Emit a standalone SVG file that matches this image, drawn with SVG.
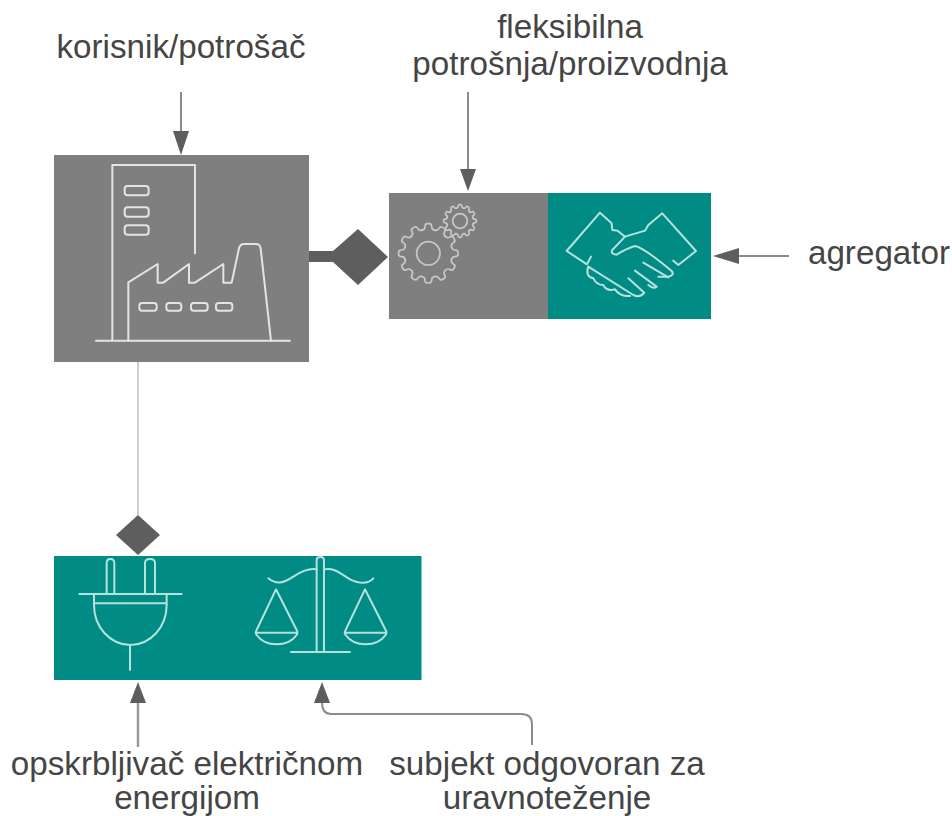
<svg xmlns="http://www.w3.org/2000/svg" width="952" height="816" viewBox="0 0 952 816">
<style>
text{font-family:"Liberation Sans",Arial,sans-serif;font-size:33.2px;fill:#454545;text-anchor:middle}
.g{fill:#7f7f7f}.t{fill:#008b85}
.i{fill:none;stroke-width:6;stroke-linecap:round;stroke-linejoin:round}
.w{stroke:#e4e4e4}.c{stroke:#c9c9c9;stroke-width:5}.m{stroke:#b5e2de}
.l{fill:none;stroke:#8c8c8c;stroke-width:2}
.h{fill:#5e5e5e}
</style>
<defs>
<path id="tooth" d="M-18.600-69.500Q-10-72-10-80Q-10-89-3-89L3-89Q10-89 10-80Q10-72 18.600-69.500"/>
<g id="gear">
<use href="#tooth"/><use href="#tooth" transform="rotate(30)"/><use href="#tooth" transform="rotate(60)"/><use href="#tooth" transform="rotate(90)"/><use href="#tooth" transform="rotate(120)"/><use href="#tooth" transform="rotate(150)"/><use href="#tooth" transform="rotate(180)"/><use href="#tooth" transform="rotate(210)"/><use href="#tooth" transform="rotate(240)"/><use href="#tooth" transform="rotate(270)"/><use href="#tooth" transform="rotate(300)"/><use href="#tooth" transform="rotate(330)"/>
</g>
</defs>
<g id="connectors">
<path class="l" d="M181 92V135"/>
<path class="h" d="M181 155L173 131H189Z"/>
<path class="l" d="M468 92V172"/>
<path class="h" d="M468 191L460 169H476Z"/>
<path class="l" d="M789 256H735"/>
<path class="h" d="M713 256L739 248V264Z"/>
<path class="l" d="M138 747V700" style="stroke-width:2.500;stroke:#9a9a9a"/>
<path class="h" d="M138 682L130 703H146Z"/>
<path class="l" d="M532 745V724Q532 714 521 714H331Q322 714 322 702"/>
<path class="h" d="M322 682L314 703H330Z"/>
<path d="M138 362V515" fill="none" stroke="#cfcfcf" stroke-width="2"/>
<path class="h" d="M309 251H333L358 229L388 257L358 285L333 262H309Z"/>
<path class="h" d="M138 515L160 535L138 555L116 535Z"/>
</g>
<g id="node-factory">
<rect class="g" x="54" y="155" width="255" height="207"/>
<g class="i w" transform="translate(50 150) scale(.3333)">
<path d="M138 572H720M187 572V45H435V310"/>
<path d="M235 572V397L323 342V398H340L417 342V398H435L520 342V398H545L567 295Q570 282 582 282H618Q630 282 632 295L663 572"/>
<rect x="224" y="108" width="72" height="28" rx="9"/><rect x="224" y="172" width="72" height="28" rx="9"/><rect x="224" y="226" width="72" height="28" rx="9"/>
<rect x="268" y="459" width="52" height="23" rx="8"/><rect x="349" y="459" width="45" height="23" rx="8"/><rect x="423" y="459" width="50" height="23" rx="8"/><rect x="498" y="459" width="49" height="23" rx="8"/>
</g>
</g>
<g id="node-flexible">
<rect class="g" x="389" y="193" width="159" height="126"/>
<g transform="translate(385 170) scale(.3333)" class="i c">
<use href="#gear" transform="translate(130 250)"/>
<circle cx="130" cy="250" r="35"/>
<use href="#gear" transform="translate(225 153) scale(.55)" style="stroke-width:9"/>
<circle cx="225" cy="153" r="22"/>
</g>
</g>
<g id="node-aggregator">
<rect class="t" x="548" y="193" width="163" height="126"/>
<g transform="translate(385 170) scale(.3333)" class="i m">
<path d="M618 260L606 283L545 243L645 128L680 160L682 180L698 182L720 200"/>
<path d="M720 200L780 182L790 165L832 130L933 243L880 285L865 272"/>
<path d="M720 200L682 240Q675 252 695 254Q725 235 750 228Q775 232 860 303Q870 315 850 320H820"/>
<path d="M775 278L850 322M750 302L815 350Q805 358 790 345M730 325L778 368Q765 385 745 375L610 290"/>
<path d="M610 290Q600 320 625 325Q635 345 655 345Q665 365 690 358Q705 380 735 378"/>
</g>
</g>
<g id="node-supplier">
<rect class="t" x="54" y="556" width="367.500" height="124"/>
<g transform="translate(50 510) scale(.3333)" class="i m">
<path d="M88 252H395M170 250V160Q170 147 181 147Q193 147 193 160V250M285 250V160Q285 147 300 147Q315 147 315 160V250"/>
<path d="M132 252V285A109 120 0 0 0 350 285V252M132 280H350M240 405V480"/>
<path d="M800 425V150Q800 141 811 141Q822 141 822 150V425M723 426H900"/>
<path d="M655 205C680 225 700 220 730 200C760 180 780 175 800 178M825 178C850 172 870 190 900 208C930 222 955 222 970 205"/>
<path d="M678 238L620 360Q615 368 620 375Q640 403 680 403Q720 403 740 375Q745 368 740 360ZM618 368H742"/>
<path d="M945 238L887 360Q882 368 887 375Q907 403 947 403Q987 403 1007 375Q1012 368 1007 360ZM885 368H1009"/>
</g>
</g>
<g id="labels">
<text x="181" y="58">korisnik/potrošač</text>
<text x="570" y="38">fleksibilna</text>
<text x="570" y="75">potrošnja/proizvodnja</text>
<text x="879" y="264">agregator</text>
<text x="187" y="775">opskrbljivač električnom</text>
<text x="187" y="808.500">energijom</text>
<text x="547" y="775">subjekt odgovoran za</text>
<text x="547" y="808.500">uravnoteženje</text>
</g>
</svg>
